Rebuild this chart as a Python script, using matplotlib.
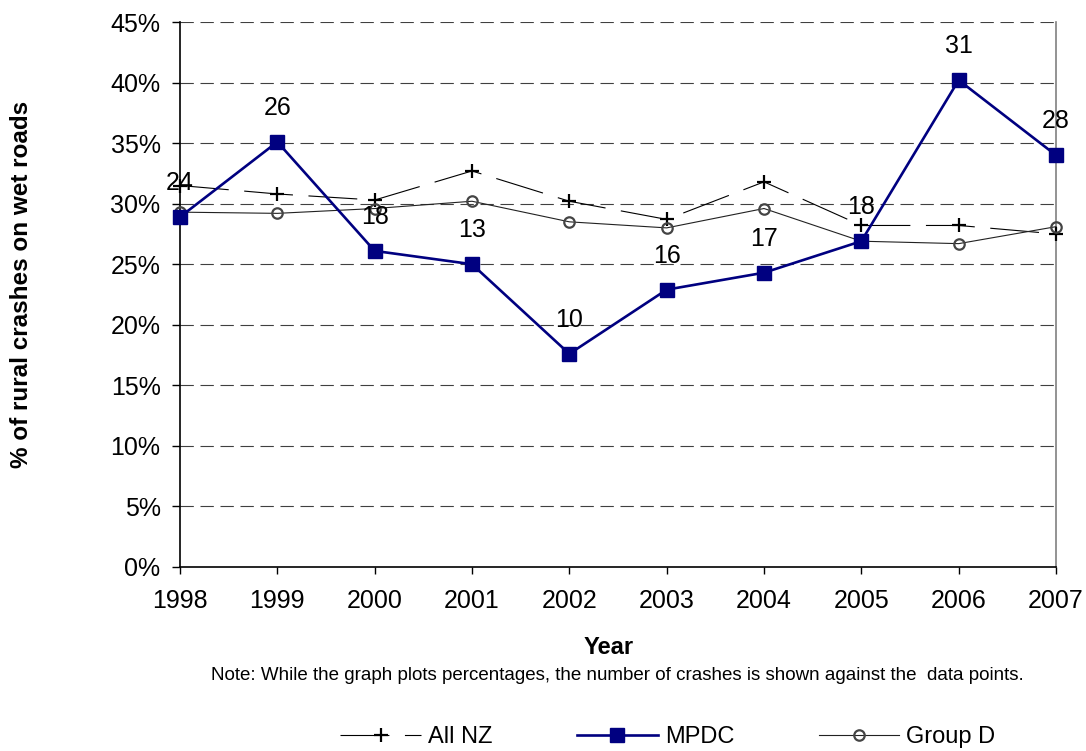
import matplotlib
matplotlib.use("Agg")
import matplotlib.pyplot as plt
from matplotlib.ticker import PercentFormatter

plt.rcParams["font.family"] = ["Liberation Sans", "DejaVu Sans"]

years = [1998, 1999, 2000, 2001, 2002, 2003, 2004, 2005, 2006, 2007]
all_nz = [0.315, 0.308, 0.303, 0.327, 0.302, 0.287, 0.318, 0.282, 0.282, 0.275]
mpdc = [0.289, 0.351, 0.261, 0.250, 0.176, 0.229, 0.243, 0.269, 0.402, 0.340]
group_d = [0.293, 0.292, 0.296, 0.302, 0.285, 0.280, 0.296, 0.269, 0.267, 0.281]
mpdc_counts = [24, 26, 18, 13, 10, 16, 17, 18, 31, 28]
y_ticks = [0.0, 0.05, 0.10, 0.15, 0.20, 0.25, 0.30, 0.35, 0.40, 0.45]

fig = plt.figure(figsize=(10.86, 7.51), dpi=100)
ax = fig.add_axes([180 / 1086, 1 - 567 / 751, 876 / 1086, 545 / 751])

# gridlines (including the top one at 45%)
for t in y_ticks[1:]:
    ax.axhline(t, color="#404040", lw=0.8, ls=(0, (12, 6)), zorder=0)

ax.plot(years, all_nz, color="black", lw=0.8, ls=(0, (44, 14)),
        marker="+", ms=10, mew=1.6, mec="black", clip_on=False,
        zorder=3, label="All NZ")
ax.plot(years, group_d, color="#222222", lw=0.8, marker="o", ms=7.5,
        mew=1.6, mec="#444444", mfc="none", clip_on=False,
        zorder=4, label="Group D")
ax.plot(years, mpdc, color="#000080", lw=1.9, marker="s", ms=9.5,
        mec="#000080", mfc="#000080", clip_on=False, zorder=5, label="MPDC")

for x, y, n in zip(years, mpdc, mpdc_counts):
    ax.annotate(str(n), (x, y), xytext=(0, 24.5), textcoords="offset points",
                ha="center", va="center", fontsize=18, zorder=6,
                annotation_clip=False)

ax.set_xlim(1998, 2007)
ax.set_ylim(0, 0.45)
ax.set_xticks(years)
ax.set_yticks(y_ticks)
ax.yaxis.set_major_formatter(PercentFormatter(1.0, decimals=0))
ax.tick_params(axis="y", direction="out", length=6, width=1, pad=8, labelsize=18)
ax.tick_params(axis="x", direction="out", length=5, width=1, pad=11, labelsize=18)

for s in ("left", "bottom"):
    ax.spines[s].set_color("black")
    ax.spines[s].set_linewidth(1.2)
ax.spines["right"].set_color("#808080")
ax.spines["right"].set_linewidth(1.2)
ax.spines["top"].set_visible(False)

fig.text(22 / 1086, 1 - 284 / 751, "% of rural crashes on wet roads",
         rotation=90, ha="center", va="center", fontsize=17.5, fontweight="bold")
fig.text(609 / 1086, 1 - 647 / 751, "Year", ha="center", va="center",
         fontsize=17, fontweight="bold")
fig.text(617 / 1086, 1 - 676 / 751,
         "Note: While the graph plots percentages, the number of crashes is shown against the  data points.",
         ha="center", va="center", fontsize=13.5)

handles, labels = ax.get_legend_handles_labels()
order = [0, 2, 1]
fig.legend([handles[i] for i in order], [labels[i] for i in order],
           loc="center", bbox_to_anchor=(668 / 1086, 1 - 737 / 751), ncol=3,
           frameon=False, fontsize=17, handlelength=3.4, handletextpad=0.3,
           columnspacing=3.6, numpoints=1, borderpad=0)

fig.savefig("out.png", dpi=100)
